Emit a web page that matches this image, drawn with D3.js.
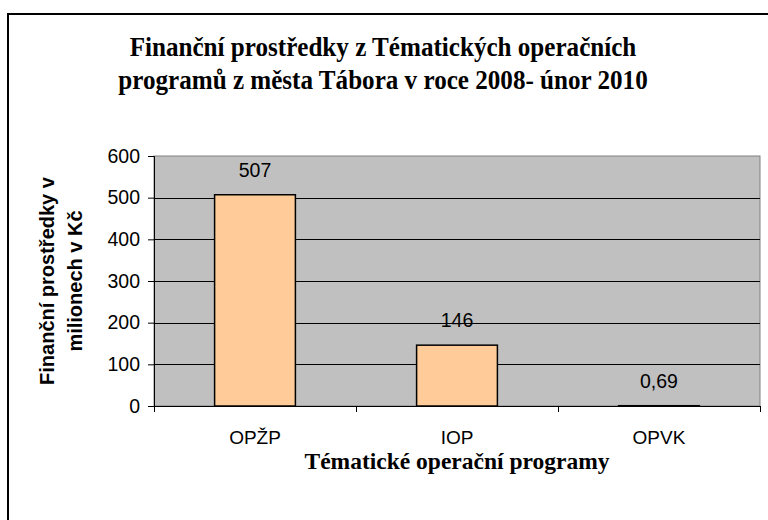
<!DOCTYPE html>
<html><head><meta charset="utf-8">
<script src="https://cdn.jsdelivr.net/npm/d3@7"></script>
<style>html,body{margin:0;padding:0;background:#fff;}svg{display:block;}</style>
</head><body>
<svg id="chart" width="768" height="520"></svg>
<script>
const categories = ["OPŽP", "IOP", "OPVK"];
const values = [507, 146, 0.69];
const yTicks = [0, 100, 200, 300, 400, 500, 600];
const titleLines = ["Finanční prostředky z Tématických operačních", "programů z města Tábora v roce 2008- únor 2010"];
const yTitleLines = ["Finanční prostředky v", "milionech v Kč"];
const xTitle = "Tématické operační programy";

const svg = d3.select("#chart");
const plot = {left: 154, right: 760, top: 156, bottom: 406};

// outer frame
svg.append("rect").attr("x", 8).attr("y", 14).attr("width", 800).attr("height", 600)
  .attr("fill", "#fff").attr("stroke", "#000").attr("stroke-width", 2);

// title
const titleG = svg.append("g").attr("transform", "translate(383,0) scale(0.93,1)");
titleG.append("text").attr("text-anchor", "middle")
  .attr("font-family", "Liberation Serif, Times New Roman, serif").attr("font-weight", "bold")
  .attr("font-size", 27)
  .selectAll("tspan").data(titleLines).join("tspan")
  .attr("x", 0).attr("y", (d, i) => 56 + i * 33).text(d => d);

const x = d3.scaleBand().domain(categories).range([plot.left, plot.right]).paddingInner(0.6).paddingOuter(0.3);
const y = d3.scaleLinear().domain([0, 600]).range([plot.bottom, plot.top]);

// plot area
svg.append("rect").attr("x", plot.left).attr("y", plot.top)
  .attr("width", plot.right - plot.left).attr("height", plot.bottom - plot.top)
  .attr("fill", "#c0c0c0").attr("stroke", "#808080").attr("stroke-width", 1);

// gridlines
svg.append("g").selectAll("line").data(yTicks.filter(t => t > 0 && t < 600)).join("line")
  .attr("x1", plot.left).attr("x2", plot.right)
  .attr("y1", d => Math.round(y(d)) + 0.5).attr("y2", d => Math.round(y(d)) + 0.5)
  .attr("stroke", "#000").attr("stroke-width", 1);

// bars
svg.append("g").selectAll("rect").data(values).join("rect")
  .attr("x", (d, i) => x(categories[i]))
  .attr("y", d => y(d))
  .attr("width", x.bandwidth())
  .attr("height", d => y(0) - y(d))
  .attr("fill", "#ffcc99").attr("stroke", "#000").attr("stroke-width", 1.5);

// value labels
svg.append("g").selectAll("text").data(values).join("text")
  .attr("x", (d, i) => x(categories[i]) + x.bandwidth() / 2)
  .attr("y", d => y(d) - 18)
  .attr("text-anchor", "middle")
  .attr("font-family", "Liberation Sans, Arial, sans-serif").attr("font-size", 19.5)
  .attr("fill", "#000")
  .text(d => String(d).replace(".", ","));

// y axis
const yAxis = d3.axisLeft(y).tickValues(yTicks).tickSize(6).tickPadding(8);
const gy = svg.append("g").attr("transform", `translate(${plot.left},0)`).call(yAxis);
gy.select(".domain").attr("stroke", "#000");
gy.selectAll(".tick line").attr("stroke", "#000");
gy.selectAll(".tick text").attr("font-family", "Liberation Sans, Arial, sans-serif")
  .attr("font-size", 19.5).attr("fill", "#000");

// x axis (ticks between categories)
const xBounds = categories.map((c, i) => plot.left + i * x.step()).concat([plot.right]);
const gx = svg.append("g");
gx.append("line").attr("x1", plot.left).attr("x2", plot.right)
  .attr("y1", plot.bottom + 0.5).attr("y2", plot.bottom + 0.5).attr("stroke", "#000");
gx.selectAll("line.t").data(xBounds).join("line").attr("class", "t")
  .attr("x1", d => Math.round(d) + 0.5).attr("x2", d => Math.round(d) + 0.5)
  .attr("y1", plot.bottom).attr("y2", plot.bottom + 6).attr("stroke", "#000");
gx.selectAll("text").data(categories).join("text")
  .attr("x", d => x(d) + x.bandwidth() / 2).attr("y", 444)
  .attr("text-anchor", "middle")
  .attr("font-family", "Liberation Sans, Arial, sans-serif").attr("font-size", 19)
  .text(d => d);

// x title
svg.append("text").attr("x", (plot.left + plot.right) / 2).attr("y", 469)
  .attr("text-anchor", "middle")
  .attr("font-family", "Liberation Serif, Times New Roman, serif").attr("font-weight", "bold")
  .attr("font-size", 23.5).text(xTitle);

// y title
const yt = svg.append("text").attr("text-anchor", "middle")
  .attr("transform", `translate(0,${(plot.top + plot.bottom) / 2}) rotate(-90)`)
  .attr("font-family", "Liberation Sans, Arial, sans-serif").attr("font-weight", "bold")
  .attr("font-size", 20);
yt.selectAll("tspan").data(yTitleLines).join("tspan")
  .attr("x", 0).attr("y", (d, i) => 54 + i * 28).text(d => d);
</script>
</body></html>
